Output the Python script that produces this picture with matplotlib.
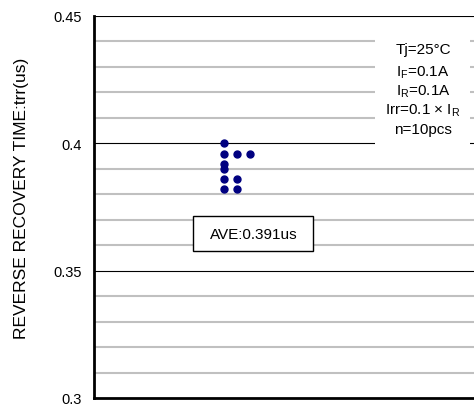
import matplotlib
matplotlib.use("Agg")
import matplotlib.pyplot as plt
from matplotlib.patches import Rectangle

plt.rcParams['font.family'] = ['Liberation Sans', 'DejaVu Sans']
plt.rcParams['mathtext.fontset'] = 'custom'
plt.rcParams['mathtext.rm'] = 'Liberation Sans'
plt.rcParams['mathtext.it'] = 'Liberation Sans'

# Data
trr_values = [0.400, 0.396, 0.396, 0.396, 0.392, 0.390, 0.386, 0.386, 0.382, 0.382]
column_index = [0, 0, 1, 2, 0, 0, 0, 1, 0, 1]
y_ticks = [0.3, 0.35, 0.4, 0.45]
y_tick_labels = ["0.3", "0.35", "0.4", "0.45"]
minor_grid = [0.31, 0.32, 0.33, 0.34, 0.36, 0.37, 0.38, 0.39, 0.41, 0.42, 0.43, 0.44]
average_label = "AVE:0.391us"
condition_lines = ["Tj=25°C", r"I$_\mathrm{F}$=0.1A", r"I$_\mathrm{R}$=0.1A",
                   r"Irr=0.1 × I$_\mathrm{R}$", "n=10pcs"]
y_label = "REVERSE RECOVERY TIME:trr(us)"

W, H = 474, 406
AW = W - 94
AH = 382
fig = plt.figure(figsize=(W / 100, H / 100), dpi=100)
ax = fig.add_axes([94 / W, 7 / H, AW / W, AH / H])

ax.set_ylim(0.3, 0.45)
ax.set_xlim(-10, 19.23)

for v in minor_grid:
    ax.axhline(v, color="#c0c0c0", lw=1.5, zorder=1)
for v in [0.35, 0.4, 0.45]:
    ax.axhline(v, color="black", lw=0.8, zorder=1)

def ax_x(px):
    return (px - 94) / AW

def ax_y(py):
    return (399 - py) / AH

# condition box (white background, no border)
ax.add_patch(Rectangle((ax_x(375), ax_y(158)), 95 / AW, 128 / AH,
                       transform=ax.transAxes, facecolor="white", edgecolor="none", zorder=2))
line_y = [50, 73, 92, 111, 130]
for txt, yy in zip(condition_lines, line_y):
    ax.text(ax_x(423), ax_y(yy), txt, transform=ax.transAxes,
            ha="center", va="center", fontsize=11, zorder=3)

ax.plot(column_index, trr_values, "o", color="#000080", markersize=5, zorder=4)

# average box
ax.add_patch(Rectangle((ax_x(193), ax_y(252)), 120 / AW, 35 / AH,
                       transform=ax.transAxes, facecolor="white", edgecolor="black",
                       lw=1.0, zorder=3))
ax.text(ax_x(254), ax_y(235), average_label, transform=ax.transAxes,
        ha="center", va="center", fontsize=11, zorder=4)

ax.set_yticks(y_ticks)
ax.set_yticklabels(y_tick_labels, fontsize=10.5)
ax.set_xticks([])
ax.tick_params(axis="y", length=0, pad=9)
ax.set_ylabel(y_label, fontsize=12.5)
ax.yaxis.set_label_coords(-65 / AW, 0.525)

for s in ["top", "right"]:
    ax.spines[s].set_visible(False)
ax.spines["left"].set_linewidth(2)
ax.spines["bottom"].set_linewidth(2)

fig.savefig("out.png", dpi=100)
